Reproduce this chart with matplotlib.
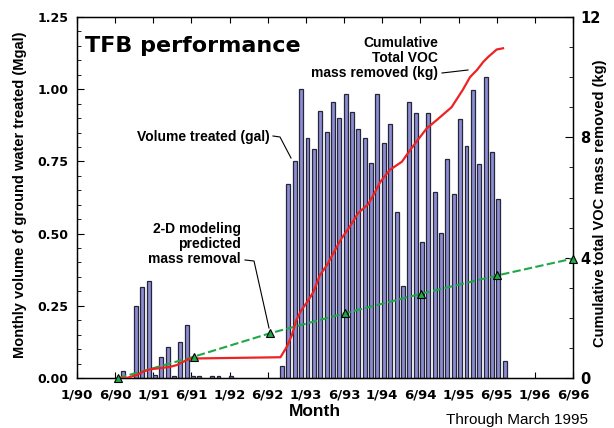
import matplotlib
matplotlib.use("Agg")
import matplotlib.pyplot as plt
from matplotlib.ticker import MultipleLocator, FixedLocator

plt.rcParams['font.family'] = ['Liberation Sans', 'DejaVu Sans']
TICKFONT = ['DejaVu Sans']

# ---- data ----
tick_months = [0, 6, 12, 18, 24, 30, 36, 42, 48, 54, 60, 66, 72, 78]
tick_labels = ['1/90', '6/90', '1/91', '6/91', '1/92', '6/92', '1/93', '6/93',
               '1/94', '6/94', '1/95', '6/95', '1/96', '6/96']
left_ticks = [0.0, 0.25, 0.5, 0.75, 1.0, 1.25]
right_ticks = [0, 4, 8, 12]

# monthly volume treated (Mgal); month index 0 = Jan 1990
bar_months = [7, 9, 10, 11, 12, 13, 14, 15, 16, 17, 18, 19, 21, 22, 24,
              32, 33, 34, 35, 36, 37, 38, 39, 40, 41, 42, 43, 44, 45, 46, 47,
              48, 49, 50, 51, 52, 53, 54, 55, 56, 57, 58, 59, 60, 61, 62, 63,
              64, 65, 66, 67]
bar_values = [0.024, 0.249, 0.314, 0.336, 0.010, 0.073, 0.106, 0.008, 0.126, 0.184,
              0.008, 0.008, 0.008, 0.008, 0.008,
              0.042, 0.672, 0.751, 1.001, 0.831, 0.793, 0.924, 0.852, 0.956, 0.900,
              0.983, 0.921, 0.862, 0.831, 0.744, 0.983,
              0.815, 0.880, 0.575, 0.319, 0.956, 0.919, 0.471, 0.919, 0.645, 0.502,
              0.759, 0.636, 0.896, 0.802, 0.996, 0.740,
              1.042, 0.783, 0.620, 0.060]

# cumulative total VOC mass removed (kg)
voc_months = [6.5, 7.8, 9.4, 10.4, 11.5, 12.8, 14.6, 15.7, 17.0, 17.8, 18.8, 32.0,
              33.0, 33.8, 34.5, 35.3, 36.4, 37.2, 38.2, 39.3, 40.6, 41.6, 42.9,
              44.2, 45.8, 46.9, 47.7, 49.2, 51.1, 52.4, 53.4, 55.0, 56.6, 58.9,
              60.7, 61.8, 62.9, 63.9, 64.7, 66.0, 67.0]
voc_kg = [0.0, 0.0, 0.10, 0.21, 0.29, 0.32, 0.37, 0.43, 0.57, 0.65, 0.65, 0.69,
          1.04, 1.43, 1.93, 2.26, 2.59, 2.87, 3.42, 3.75, 4.26, 4.64, 5.03,
          5.48, 5.78, 6.19, 6.52, 6.92, 7.19, 7.58, 7.86, 8.30, 8.58, 9.00,
          9.59, 10.00, 10.24, 10.51, 10.68, 10.92, 10.96]

# 2-D modeling predicted mass removal (kg)
model_months = [6.5, 18.4, 30.4, 42.1, 54.1, 66.1, 78.0]
model_kg = [0.0, 0.71, 1.49, 2.15, 2.80, 3.41, 3.97]

# ---- figure ----
W, H = 614, 428
fig = plt.figure(figsize=(W / 100, H / 100), dpi=100)
ax = fig.add_axes([77 / W, 1 - 378 / H, 496 / W, 361 / H])

ax.bar([m + 0.25 for m in bar_months], bar_values, width=0.62,
       color='#8c8cd2', edgecolor='#26263a', linewidth=0.9, zorder=2)

ax.set_xlim(0, 78)
ax.set_ylim(0, 1.25)
ax.xaxis.set_major_locator(FixedLocator(tick_months))
ax.set_xticklabels(tick_labels, fontsize=9.5, fontweight='bold', family=TICKFONT)
ax.set_yticks(left_ticks)
ax.set_yticklabels([f'{v:.2f}' for v in left_ticks],
                   fontsize=9, fontweight='bold', family=TICKFONT)
ax.yaxis.set_minor_locator(MultipleLocator(0.05))
ax.tick_params(axis='x', which='major', direction='in', length=4, width=0.8,
               top=True, pad=7.5)
ax.tick_params(axis='y', which='major', direction='in', length=5, width=0.8, pad=6)
ax.tick_params(axis='y', which='minor', direction='in', length=3, width=0.6)
for s in ax.spines.values():
    s.set_linewidth(1.0)

ax2 = ax.twinx()
ax2.set_ylim(0, 12)
ax2.set_yticks(right_ticks)
ax2.set_yticklabels([str(v) for v in right_ticks], fontsize=10.5,
                    fontweight='bold', family=TICKFONT)
ax2.yaxis.set_minor_locator(MultipleLocator(1))
ax2.tick_params(axis='y', which='major', direction='in', length=6, width=0.8, pad=5)
ax2.tick_params(axis='y', which='minor', direction='in', length=3, width=0.6)

ax2.plot(model_months, model_kg, color='#1fa84a', linewidth=1.5,
         dashes=(4, 1.6), zorder=3)
ax2.plot(model_months, model_kg, linestyle='none', marker='^', markersize=5.5,
         markerfacecolor='#1fa84a', markeredgecolor='black', markeredgewidth=0.8,
         zorder=5, clip_on=False)
ax2.plot(voc_months, voc_kg, color='#ee2222', linewidth=1.6, zorder=4)

# labels
fig.text(20 / W, 1 - 195 / H, 'Monthly volume of ground water treated (Mgal)',
         rotation=90, ha='center', va='center', fontsize=10.5, fontweight='bold')
fig.text(600 / W, 1 - 203 / H, 'Cumulative total VOC mass removed (kg)',
         rotation=90, ha='center', va='center', fontsize=10.5, fontweight='bold')
fig.text(315 / W, 1 - 412 / H, 'Month', ha='center', va='center',
         fontsize=12.5, fontweight='bold')
fig.text(517 / W, 1 - 420 / H, 'Through March 1995', ha='center', va='center',
         fontsize=11)

fig.text(85 / W, 1 - 46 / H, 'TFB performance', ha='left', va='center',
         fontsize=16, fontweight='bold', family=TICKFONT)
fig.text(438 / W, 1 - 58 / H, 'Cumulative\nTotal VOC\nmass removed (kg)',
         ha='right', va='center', fontsize=10, fontweight='bold',
         linespacing=1.1)
fig.text(270 / W, 1 - 137 / H, 'Volume treated (gal)', ha='right', va='center',
         fontsize=10, fontweight='bold')
fig.text(241 / W, 1 - 244 / H, '2-D modeling\npredicted\nmass removal',
         ha='right', va='center', fontsize=10, fontweight='bold',
         linespacing=1.1)

# leader lines (figure pixel coords)
def leader(pts):
    xs = [p[0] / W for p in pts]
    ys = [1 - p[1] / H for p in pts]
    fig.add_artist(plt.Line2D(xs, ys, color='black', linewidth=0.8))

leader([(442, 73), (468, 70)])
leader([(273, 136), (280, 137), (291, 158)])
leader([(245, 260), (254, 261), (269, 328)])

fig.savefig('out.png', dpi=100)
